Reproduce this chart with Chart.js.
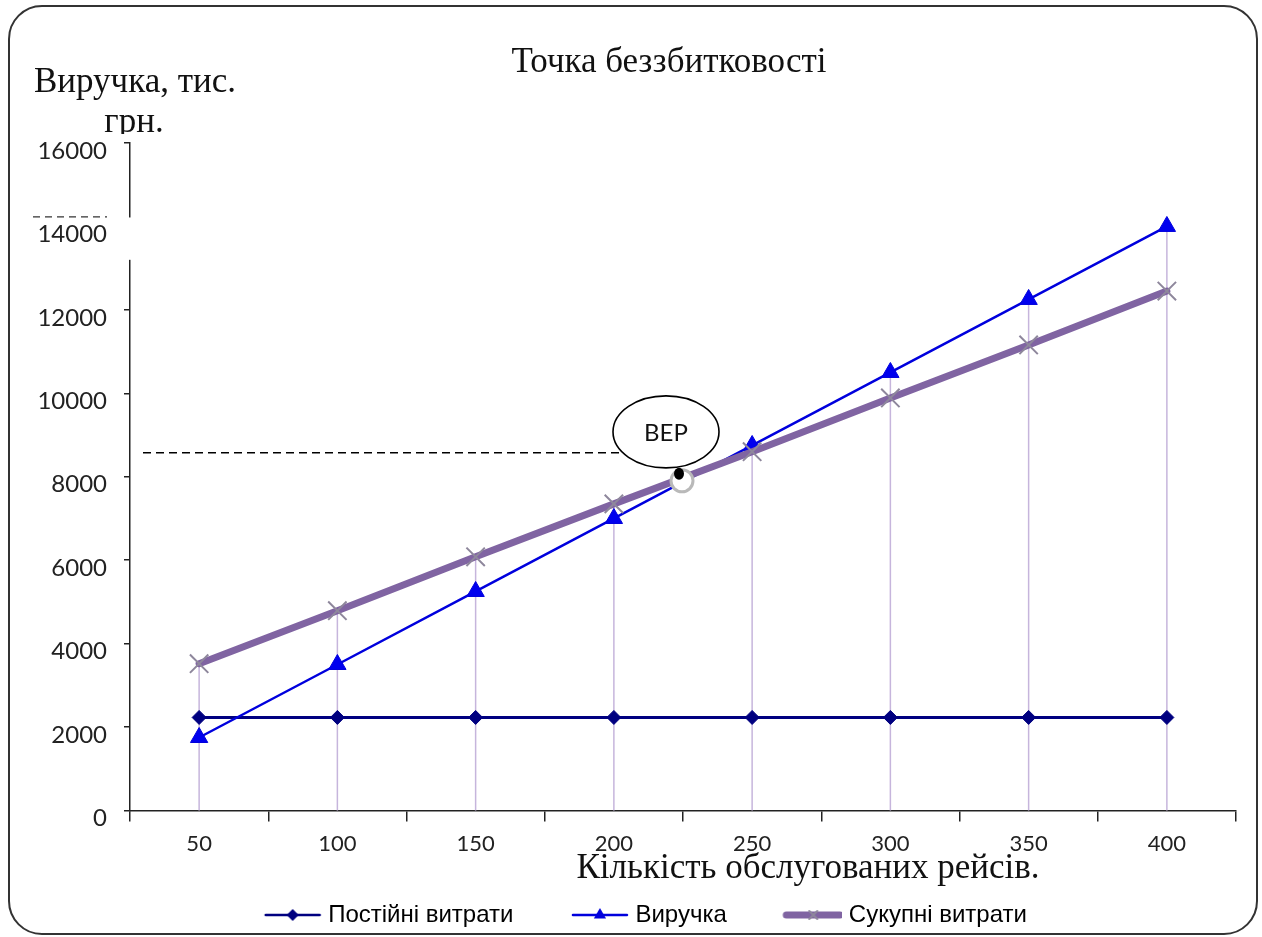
<!DOCTYPE html>
<html>
<head>
<meta charset="utf-8">
<title>Точка беззбитковості</title>
<script src="https://cdn.jsdelivr.net/npm/chart.js@4.4.1/dist/chart.umd.min.js"></script>
<style>
  html, body { margin: 0; padding: 0; background: #fff; overflow: hidden; }
  #wrap { position: relative; width: 1262px; height: 937px; }
  #frame { position: absolute; left: 8px; top: 5px; width: 1246px; height: 926px;
           border: 2px solid #333; border-radius: 34px; pointer-events: none; }
</style>
</head>
<body>
<div id="wrap">
  <canvas id="mycanvas"></canvas>
  <div id="frame"></div>
</div>
<script>
// кількість обслугованих рейсів
var flights = ['50', '100', '150', '200', '250', '300', '350', '400'];
// тис. грн.
var fixedCosts = [2230, 2230, 2230, 2230, 2230, 2230, 2230, 2230];
var revenue = [1750, 3500, 5250, 7000, 8750, 10500, 12250, 14000];
var totalCosts = [3520, 4790, 6080, 7350, 8600, 9890, 11160, 12450];

var yMin = 0, yMax = 16000, yStep = 2000;

// точка беззбитковості (позиція між 200 і 250)
var bepIndex = 3.5;
var bepValue = 7950;
var bepGuide = 8575;

var serif = '"Liberation Serif", "Times New Roman", serif';
var sans = 'Lato, "Liberation Sans", sans-serif';

// legend icons: line with marker
function legendIcon(color, width, mark, markColor, r) {
  var c = document.createElement('canvas');
  c.width = 111; c.height = 26;
  var g = c.getContext('2d');
  var cx = 82, cy = 13;
  g.strokeStyle = color;
  g.lineWidth = width;
  g.lineCap = 'round';
  g.beginPath(); g.moveTo(55, cy); g.lineTo(109, cy); g.stroke();
  g.fillStyle = markColor;
  g.strokeStyle = markColor;
  g.lineWidth = 2;
  g.beginPath();
  if (mark == 'diamond') {
    g.moveTo(cx, cy - r); g.lineTo(cx + r, cy); g.lineTo(cx, cy + r); g.lineTo(cx - r, cy);
    g.closePath(); g.fill();
  } else if (mark == 'triangle') {
    g.moveTo(cx, cy - r); g.lineTo(cx + r * 0.87, cy + r * 0.5); g.lineTo(cx - r * 0.87, cy + r * 0.5);
    g.closePath(); g.fill();
  } else {
    g.moveTo(cx - r, cy - r); g.lineTo(cx + r, cy + r);
    g.moveTo(cx + r, cy - r); g.lineTo(cx - r, cy + r);
    g.stroke();
  }
  return c;
}

var icons = [
  legendIcon('#000080', 2.5, 'diamond', '#000080', 6),
  legendIcon('#0000DD', 2.5, 'triangle', '#0000DD', 7),
  legendIcon('#8064A2', 7, 'cross', '#8e879c', 4)
];

var dropLines = {
  id: 'dropLines',
  beforeDatasetsDraw: function(chart) {
    var x = chart.scales.x, y = chart.scales.y, g = chart.ctx;
    g.save();
    g.strokeStyle = '#c6b5dc';
    g.lineWidth = 1.5;
    for (var i = 0; i < flights.length; i++) {
      var top = Math.max(fixedCosts[i], revenue[i], totalCosts[i]);
      var px = x.getPixelForValue(i);
      g.beginPath();
      g.moveTo(px, y.getPixelForValue(top));
      g.lineTo(px, y.bottom);
      g.stroke();
    }
    g.restore();
  }
};

var bepMark = {
  id: 'bepMark',
  afterDatasetsDraw: function(chart) {
    var x = chart.scales.x, y = chart.scales.y, g = chart.ctx;
    var px = x.getPixelForValue(bepIndex);
    var py = y.getPixelForValue(bepValue);
    var cx = px - 17, cy = py - 47, rx = 53, ry = 36;
    var gy = y.getPixelForValue(bepGuide);
    var ex = cx - rx * Math.sqrt(1 - Math.pow((gy - cy) / ry, 2));
    g.save();
    // dashed guide
    g.strokeStyle = '#000';
    g.lineWidth = 1.5;
    g.setLineDash([8, 5]);
    g.beginPath(); g.moveTo(x.left + 13, gy); g.lineTo(ex, gy); g.stroke();
    g.setLineDash([]);
    // ring at the point
    g.fillStyle = '#fff';
    g.strokeStyle = '#b9b9b9';
    g.lineWidth = 3;
    g.beginPath(); g.arc(px - 1, py + 2, 11, 0, Math.PI * 2); g.fill(); g.stroke();
    g.fillStyle = '#000';
    g.beginPath(); g.ellipse(px - 4, py - 5, 5, 6, 0, 0, Math.PI * 2); g.fill();
    // callout
    g.fillStyle = '#fff';
    g.strokeStyle = '#000';
    g.lineWidth = 1.6;
    g.beginPath(); g.ellipse(cx, cy, rx, ry, 0, 0, Math.PI * 2); g.fill(); g.stroke();
    g.fillStyle = '#111';
    g.font = '24px ' + sans;
    g.textAlign = 'center';
    g.textBaseline = 'middle';
    g.fillText('BEP', cx, cy + 1);
    g.restore();
  }
};

var texts = {
  id: 'texts',
  afterDraw: function(chart) {
    var g = chart.ctx, a = chart.chartArea, y = chart.scales.y;
    g.save();
    // axis gap and stray dashes near 14000
    g.fillStyle = '#fff';
    var g1 = y.getPixelForValue(14215), g2 = y.getPixelForValue(13200);
    g.fillRect(a.left - 8, g1, 11, g2 - g1);
    g.strokeStyle = '#333';
    g.lineWidth = 1.2;
    g.setLineDash([7, 5]);
    var dy = y.getPixelForValue(14230);
    g.beginPath(); g.moveTo(a.left - 97, dy); g.lineTo(a.left - 23, dy); g.stroke();
    g.setLineDash([]);

    g.fillStyle = '#111';
    g.textAlign = 'center';
    g.textBaseline = 'alphabetic';
    g.font = '35px ' + serif;
    g.fillText('Точка беззбитковості', 669, 72);
    g.fillText('Виручка, тис.', 135, 92);
    g.save();
    g.beginPath(); g.rect(0, 95, 300, 39); g.clip();
    g.fillText('грн.', 134, 132);
    g.restore();
    g.fillText('Кількість обслугованих рейсів.', 808, 878);
    g.restore();
  }
};

var ctx = document.getElementById('mycanvas');

var chart = new Chart(ctx, {
  type: 'line',
  data: {
    labels: flights,
    datasets: [
      {
        label: 'Постійні витрати',
        data: fixedCosts,
        borderColor: '#000080',
        backgroundColor: '#000080',
        borderWidth: 3,
        pointStyle: 'rectRot',
        pointRadius: 7,
        pointBorderWidth: 1,
        order: 2
      },
      {
        label: 'Виручка',
        data: revenue,
        borderColor: '#0000DD',
        backgroundColor: '#0000EE',
        borderWidth: 2.5,
        pointStyle: 'triangle',
        pointRadius: 10,
        pointBorderWidth: 1,
        order: 1
      },
      {
        label: 'Сукупні витрати',
        data: totalCosts,
        borderColor: '#8064A2',
        backgroundColor: '#8e879c',
        borderWidth: 7,
        borderCapStyle: 'round',
        pointStyle: 'crossRot',
        pointRadius: 13,
        pointBorderColor: '#8e879c',
        pointBorderWidth: 2,
        order: 0
      }
    ]
  },
  options: {
    responsive: true,
    maintainAspectRatio: false,
    animation: false,
    events: [],
    layout: { padding: { left: 7, right: 26, top: 143, bottom: 0 } },
    plugins: {
      title: { display: false },
      tooltip: { enabled: false },
      legend: {
        position: 'bottom',
        labels: {
          usePointStyle: true,
          pointStyleWidth: 100,
          padding: 10,
          color: '#111',
          font: { family: '"Liberation Sans", Arial, sans-serif', size: 24 },
          generateLabels: function(chart) {
            return chart.data.datasets.map(function(ds, i) {
              return {
                text: ds.label,
                pointStyle: icons[i],
                datasetIndex: i,
                fillStyle: 'transparent',
                strokeStyle: 'transparent',
                lineWidth: 0,
                hidden: false
              };
            });
          }
        }
      }
    },
    scales: {
      x: {
        offset: true,
        grid: { offset: true, drawOnChartArea: false, tickLength: 11, color: '#222', lineWidth: 1.5 },
        border: { color: '#222', width: 1.5 },
        ticks: { color: '#222', font: { family: sans, size: 22 }, padding: 9, maxRotation: 0, autoSkip: false },
        afterFit: function(s) { s.height = 82.5; }
      },
      y: {
        min: yMin,
        max: yMax,
        grid: { drawOnChartArea: false, tickLength: 6, color: '#222', lineWidth: 1.5 },
        border: { color: '#222', width: 1.5 },
        ticks: {
          stepSize: yStep,
          color: '#222',
          font: { family: sans, size: 24 },
          padding: 17,
          labelOffset: 8,
          callback: function(v) { return String(v); }
        },
        afterFit: function(s) { s.width = 123; }
      }
    }
  },
  plugins: [dropLines, bepMark, texts]
});
</script>
</body>
</html>
